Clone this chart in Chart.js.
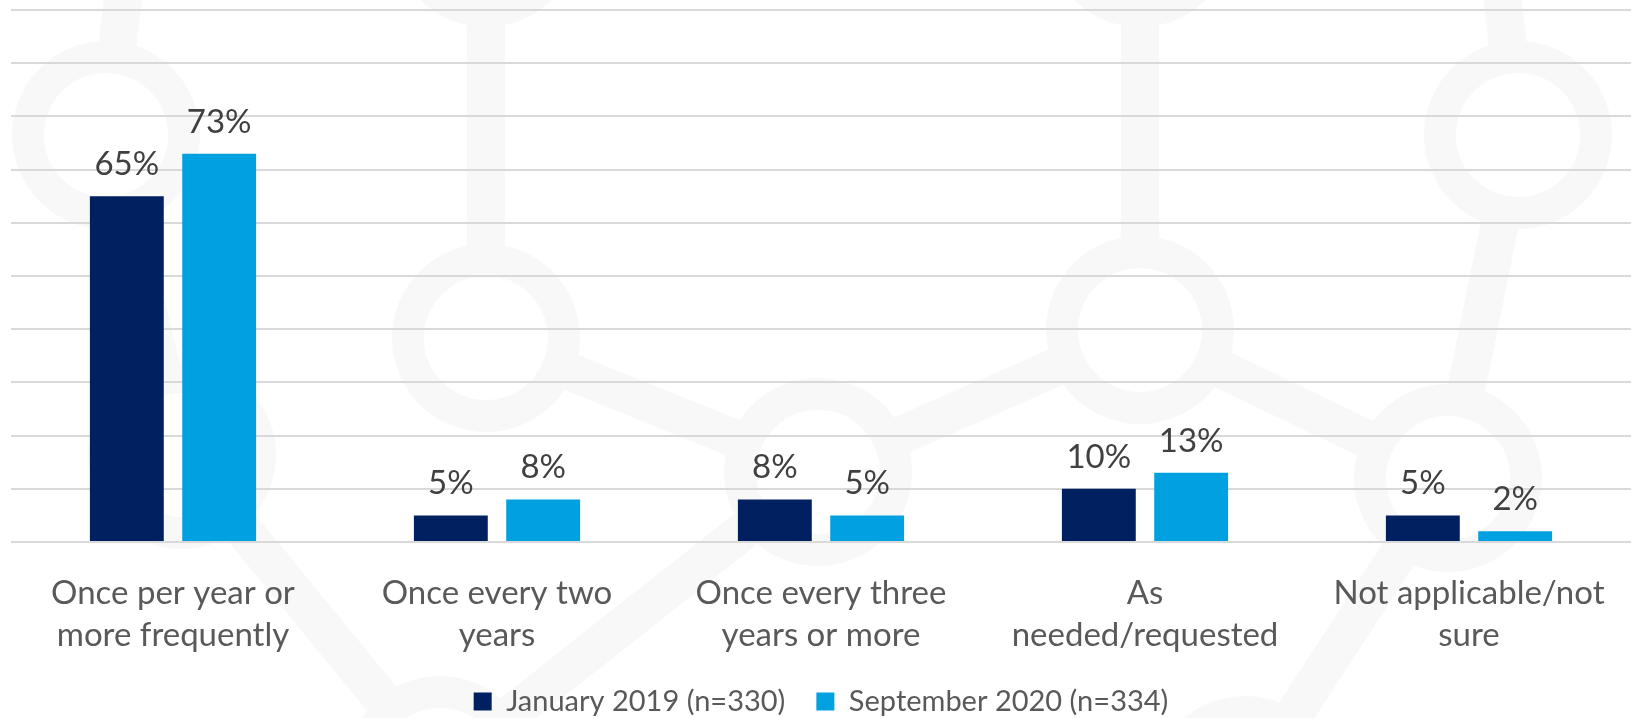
<!DOCTYPE html>
<html>
<head>
<meta charset="utf-8">
<script src="https://cdn.jsdelivr.net/npm/chart.js@4"></script>
<style>
  html, body { margin: 0; padding: 0; background: #ffffff; overflow: hidden; }
  #wrap { position: relative; width: 1636px; height: 726px; }
</style>
</head>
<body>
<div id="wrap"><canvas id="myChart"></canvas></div>
<script>
const categories = [
  ["Once per year or", "more frequently"],
  ["Once every two", "years"],
  ["Once every three", "years or more"],
  ["As", "needed/requested"],
  ["Not applicable/not", "sure"],
];
const seriesNames = ["January 2019 (n=330)", "September 2020 (n=334)"];
const jan2019 = [65, 5, 8, 10, 5];
const sep2020 = [73, 8, 5, 13, 2];
const seriesColors = ["#002060", "#00A1E0"];

const chartEl = document.getElementById("myChart");

// faint network pattern behind the plot
const rings = [
  [106, 135], [486, 338], [486, -67], [1140, -67], [1140, 330],
  [1518, 135], [1448, 478], [818, 472], [182, 455], [440, 770], [1245, 790],
];
const links = [
  [[106, 135], [128, -40]],
  [[106, 135], [182, 455]],
  [[486, 338], [486, -67]],
  [[1140, -67], [1140, 330]],
  [[1518, 135], [1498, -40]],
  [[1518, 135], [1448, 478]],
  [[1140, 330], [1448, 478]],
  [[486, 338], [818, 472]],
  [[818, 472], [1140, 330]],
  [[1448, 478], [1245, 790]],
  [[182, 455], [440, 770]],
  [[818, 472], [440, 770]],
];

const backdrop = {
  id: "backdrop",
  beforeDraw(chart) {
    const ctx = chart.ctx;
    ctx.save();
    ctx.strokeStyle = "#f8f8f8";
    ctx.lineWidth = 38;
    links.forEach(([a, b]) => {
      ctx.beginPath();
      ctx.moveTo(a[0], a[1]);
      ctx.lineTo(b[0], b[1]);
      ctx.stroke();
    });
    ctx.fillStyle = "#ffffff";
    rings.forEach(([x, y]) => {
      ctx.beginPath();
      ctx.arc(x, y, 62, 0, Math.PI * 2);
      ctx.fill();
    });
    ctx.lineWidth = 32;
    rings.forEach(([x, y]) => {
      ctx.beginPath();
      ctx.arc(x, y, 78, 0, Math.PI * 2);
      ctx.stroke();
    });
    ctx.restore();
  },
};

const valueLabels = {
  id: "valueLabels",
  afterDatasetsDraw(chart) {
    const ctx = chart.ctx;
    ctx.save();
    ctx.font = "33px Lato";
    ctx.fillStyle = "#404040";
    ctx.textAlign = "center";
    ctx.textBaseline = "alphabetic";
    chart.data.datasets.forEach((ds, i) => {
      chart.getDatasetMeta(i).data.forEach((bar, j) => {
        ctx.fillText(ds.data[j] + "%", bar.x, bar.y - 21);
      });
    });
    ctx.restore();
  },
};

const config = {
  type: "bar",
  data: {
    labels: categories,
    datasets: [
      { label: seriesNames[0], data: jan2019, backgroundColor: seriesColors[0] },
      { label: seriesNames[1], data: sep2020, backgroundColor: seriesColors[1] },
    ],
  },
  options: {
    responsive: true,
    maintainAspectRatio: false,
    animation: false,
    layout: { padding: { top: 10, left: 11, right: 5, bottom: 0 } },
    datasets: { bar: { categoryPercentage: 0.57, barPercentage: 0.8 } },
    scales: {
      x: {
        grid: { display: false, drawTicks: false },
        border: { display: false },
        ticks: {
          padding: 30,
          color: "#595959",
          font: { family: "Lato", size: 33, lineHeight: 1.27 },
          maxRotation: 0,
          autoSkip: false,
        },
        afterFit(scale) {
          scale.height = 114;
        },
      },
      y: {
        min: 0,
        max: 100,
        ticks: { display: false, stepSize: 10 },
        grid: { color: "#d9d9d9", lineWidth: 2, drawTicks: false },
        border: { display: false },
      },
    },
    plugins: {
      legend: {
        position: "bottom",
        labels: {
          boxWidth: 18,
          boxHeight: 18,
          padding: 31,
          color: "#595959",
          font: { family: "Lato", size: 29 },
        },
      },
      tooltip: { enabled: false },
    },
  },
  plugins: [backdrop, valueLabels],
};

new Chart(chartEl, config);
</script>
</body>
</html>
